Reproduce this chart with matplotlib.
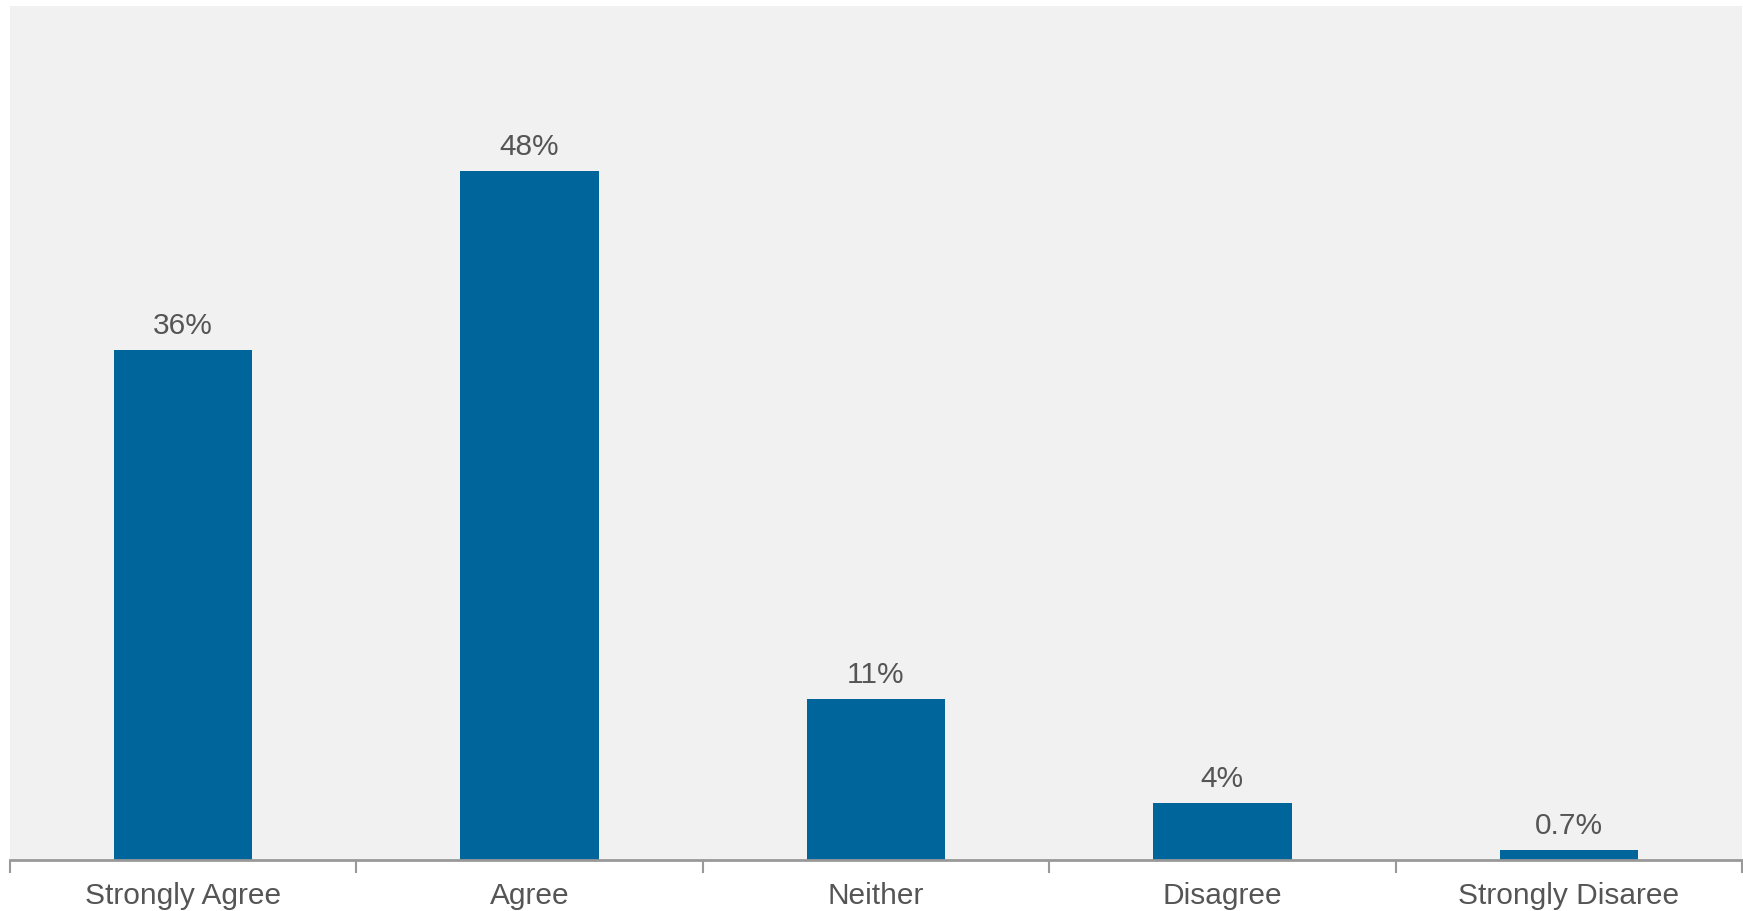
import numpy as np
import matplotlib.pyplot as plt

# survey answers, share of respondents (%)
categories = ['Strongly Agree', 'Agree', 'Neither', 'Disagree', 'Strongly Disaree']
values = [35.8, 48.4, 11.3, 4.0, 0.7]
labels = ['36%', '48%', '11%', '4%', '0.7%']

plt.rcParams['font.family'] = ['Liberation Sans', 'DejaVu Sans']

fig = plt.figure(figsize=(17.43, 9.12), dpi=100)
ax = fig.add_axes([10 / 1743, 1 - 861 / 912, 1732 / 1743, 854 / 912])
ax.set_facecolor('#f1f1f1')

x = np.arange(len(categories))
bars = ax.bar(x, values, width=0.4, color='#00659a')

for b, lab in zip(bars, labels):
    ax.annotate(lab, (b.get_x() + b.get_width() / 2, b.get_height()),
                xytext=(0, 8), textcoords='offset points',
                ha='center', va='bottom', fontsize=21.5, color='#555555')

ax.set_xlim(-0.5, len(categories) - 0.5)
ax.set_ylim(0, 60)

ax.set_xticks(x)
ax.set_xticklabels(categories, fontsize=21.5, color='#555555')
ax.tick_params(axis='x', which='major', length=0, pad=15)
ax.set_xticks(np.arange(len(categories) + 1) - 0.5, minor=True)
ax.tick_params(axis='x', which='minor', length=9, width=1.5, color='#999999')
ax.set_yticks([])

for s in ['top', 'right', 'left']:
    ax.spines[s].set_visible(False)
ax.spines['bottom'].set_color('#999999')
ax.spines['bottom'].set_linewidth(2)

fig.savefig('out.png', dpi=100)
